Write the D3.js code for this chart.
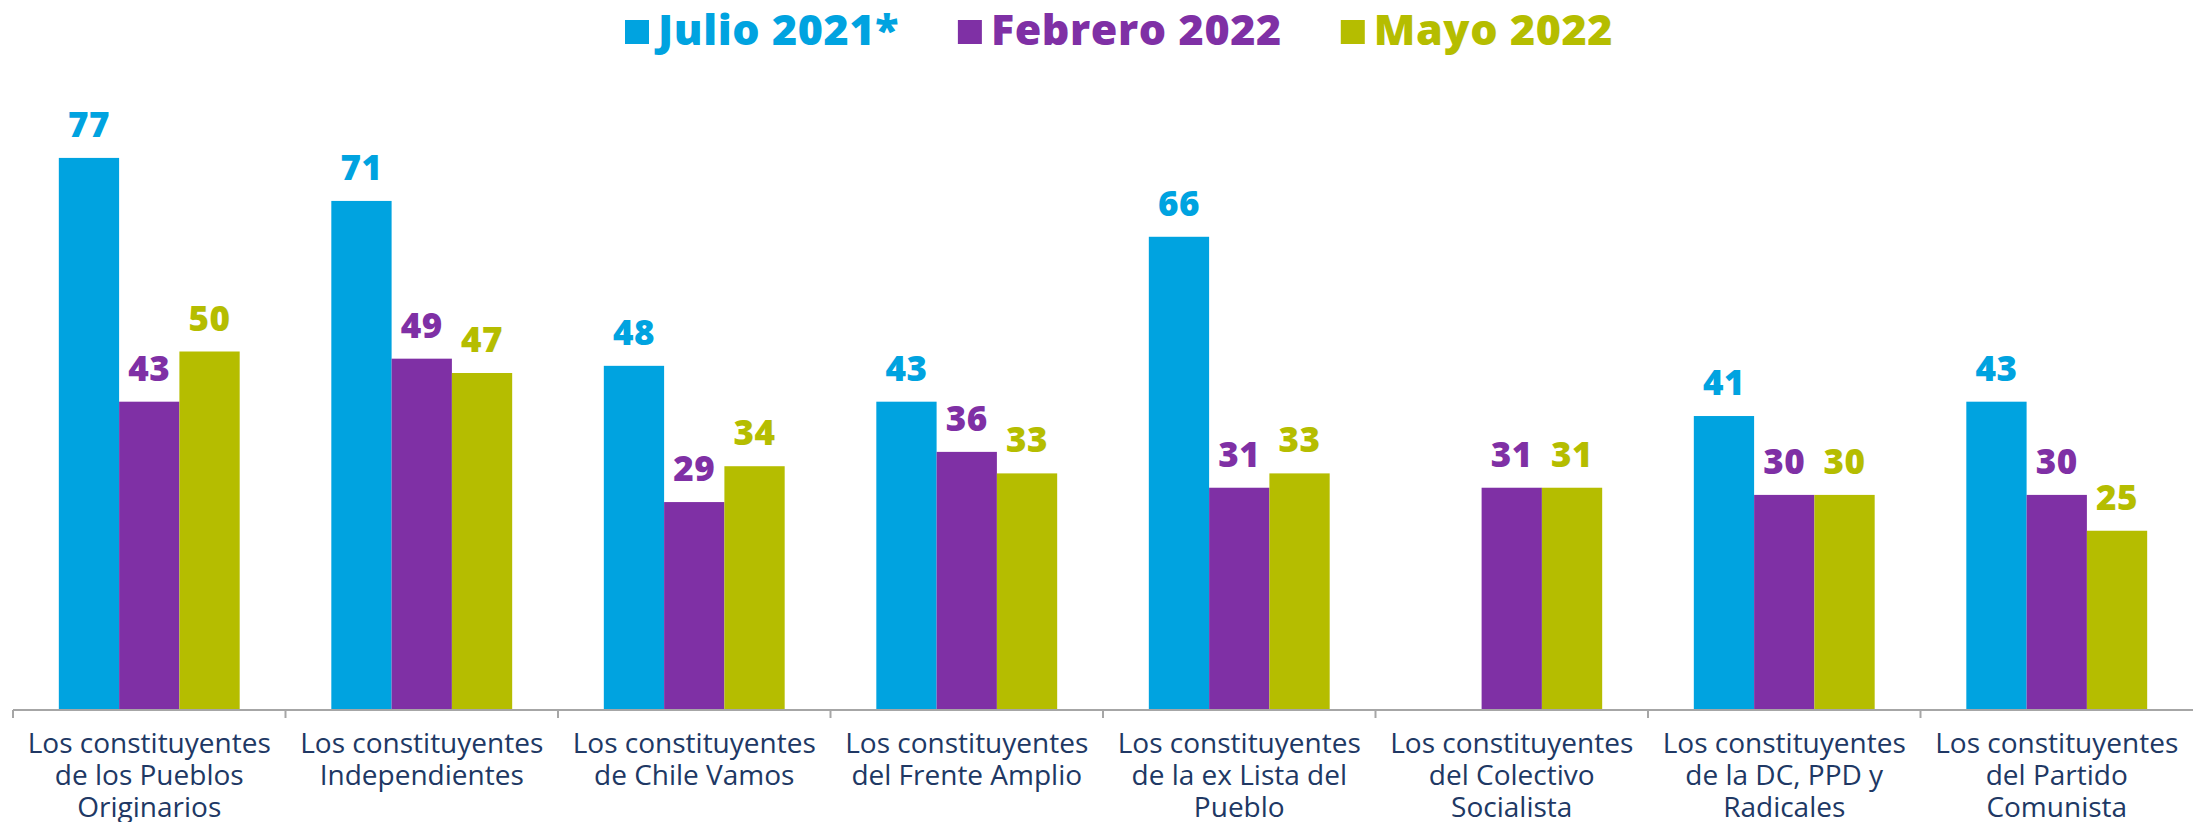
<!DOCTYPE html>
<html>
<head>
<meta charset="utf-8">
<script src="https://cdn.jsdelivr.net/npm/d3@7"></script>
<style>
  body { margin: 0; background: #fff; }
  svg { display: block; }
  .cat { font-family: "Open Sans", sans-serif; fill: #203864; }
  .val, .leg { font-family: "Open Sans", sans-serif; font-weight: 800; }
</style>
</head>
<body>
<div id="chart"></div>
<script>
// chart data
var categories = [
  ["Los constituyentes", "de los Pueblos", "Originarios"],
  ["Los constituyentes", "Independientes"],
  ["Los constituyentes", "de Chile Vamos"],
  ["Los constituyentes", "del Frente Amplio"],
  ["Los constituyentes", "de la ex Lista del", "Pueblo"],
  ["Los constituyentes", "del Colectivo", "Socialista"],
  ["Los constituyentes", "de la DC, PPD y", "Radicales"],
  ["Los constituyentes", "del Partido", "Comunista"]
];
var seriesNames = ["Julio 2021*", "Febrero 2022", "Mayo 2022"];
var julio2021 = [77, 71, 48, 43, 66, null, 41, 43];
var febrero2022 = [43, 49, 29, 36, 31, 31, 30, 30];
var mayo2022 = [50, 47, 34, 33, 33, 31, 30, 25];
var colors = ["#00A3E0", "#7F30A5", "#B5BD00"];

var series = [julio2021, febrero2022, mayo2022];

var fullWidth = 2193, fullHeight = 822;
var margin = {top: 136, left: 13, right: 0, baseline: 710};

var svg = d3.select("#chart").append("svg")
    .attr("width", fullWidth)
    .attr("height", fullHeight);

var idx = d3.range(categories.length);

var x0 = d3.scaleBand()
    .domain(idx)
    .range([margin.left, fullWidth - margin.right])
    .padding(0);

var x1 = d3.scaleBand()
    .domain(d3.range(series.length))
    .range([0, x0.bandwidth()])
    .paddingInner(0)
    .paddingOuter(0.76);

var y = d3.scaleLinear()
    .domain([0, 80])
    .range([margin.baseline, margin.baseline - 80 * 7.17]);

function barData(i) {
    return series.map(function (s, k) { return {k: k, v: s[i]}; })
        .filter(function (d) { return d.v != null; });
}

// bars
var groups = svg.selectAll("g.grp")
    .data(idx)
    .enter().append("g")
    .attr("class", "grp")
    .attr("transform", function (i) { return "translate(" + x0(i) + ",0)"; });

groups.selectAll("rect")
    .data(barData)
    .enter().append("rect")
    .attr("x", function (d) { return x1(d.k); })
    .attr("y", function (d) { return y(d.v); })
    .attr("width", x1.bandwidth())
    .attr("height", function (d) { return y(0) - y(d.v); })
    .attr("fill", function (d) { return colors[d.k]; });

groups.selectAll("text.val")
    .data(barData)
    .enter().append("text")
    .attr("class", "val")
    .attr("x", function (d) { return x1(d.k) + x1.bandwidth() / 2; })
    .attr("y", function (d) { return y(d.v) - 21; })
    .attr("text-anchor", "middle")
    .attr("font-size", 35)
    .attr("letter-spacing", 0.5)
    .attr("fill", function (d) { return colors[d.k]; })
    .text(function (d) { return d.v; });

// axis line and boundary ticks
var axis = svg.append("g").attr("class", "x axis");
axis.append("line")
    .attr("x1", x0.range()[0]).attr("x2", x0.range()[1])
    .attr("y1", y(0)).attr("y2", y(0))
    .attr("stroke", "#A6A6A6").attr("stroke-width", 2);

axis.selectAll("line.tick")
    .data(idx)
    .enter().append("line")
    .attr("class", "tick")
    .attr("x1", function (i) { return x0(i); })
    .attr("x2", function (i) { return x0(i); })
    .attr("y1", y(0)).attr("y2", y(0) + 8)
    .attr("stroke", "#A6A6A6").attr("stroke-width", 2);

// category labels
var labels = axis.selectAll("text.cat")
    .data(idx)
    .enter().append("text")
    .attr("class", "cat")
    .attr("text-anchor", "middle")
    .attr("font-size", 28)
    .attr("x", function (i) { return x0(i) + x0.bandwidth() / 2; })
    .attr("y", y(0) + 43);

labels.selectAll("tspan")
    .data(function (i) { return categories[i]; })
    .enter().append("tspan")
    .attr("x", function () { return d3.select(this.parentNode).attr("x"); })
    .attr("dy", function (d, j) { return j === 0 ? 0 : 32; })
    .text(function (d) { return d; });

// legend
var legend = svg.append("g").attr("class", "legend");
var lx = 625;
seriesNames.forEach(function (name, k) {
    legend.append("rect")
        .attr("x", lx).attr("y", 20)
        .attr("width", 24).attr("height", 24)
        .attr("fill", colors[k]);
    var t = legend.append("text")
        .attr("class", "leg")
        .attr("x", lx + 33).attr("y", 45)
        .attr("font-size", 43)
        .attr("letter-spacing", 0.6)
        .attr("fill", colors[k])
        .text(name);
    lx += 33 + t.node().getComputedTextLength() + 59;
});
</script>
</body>
</html>
